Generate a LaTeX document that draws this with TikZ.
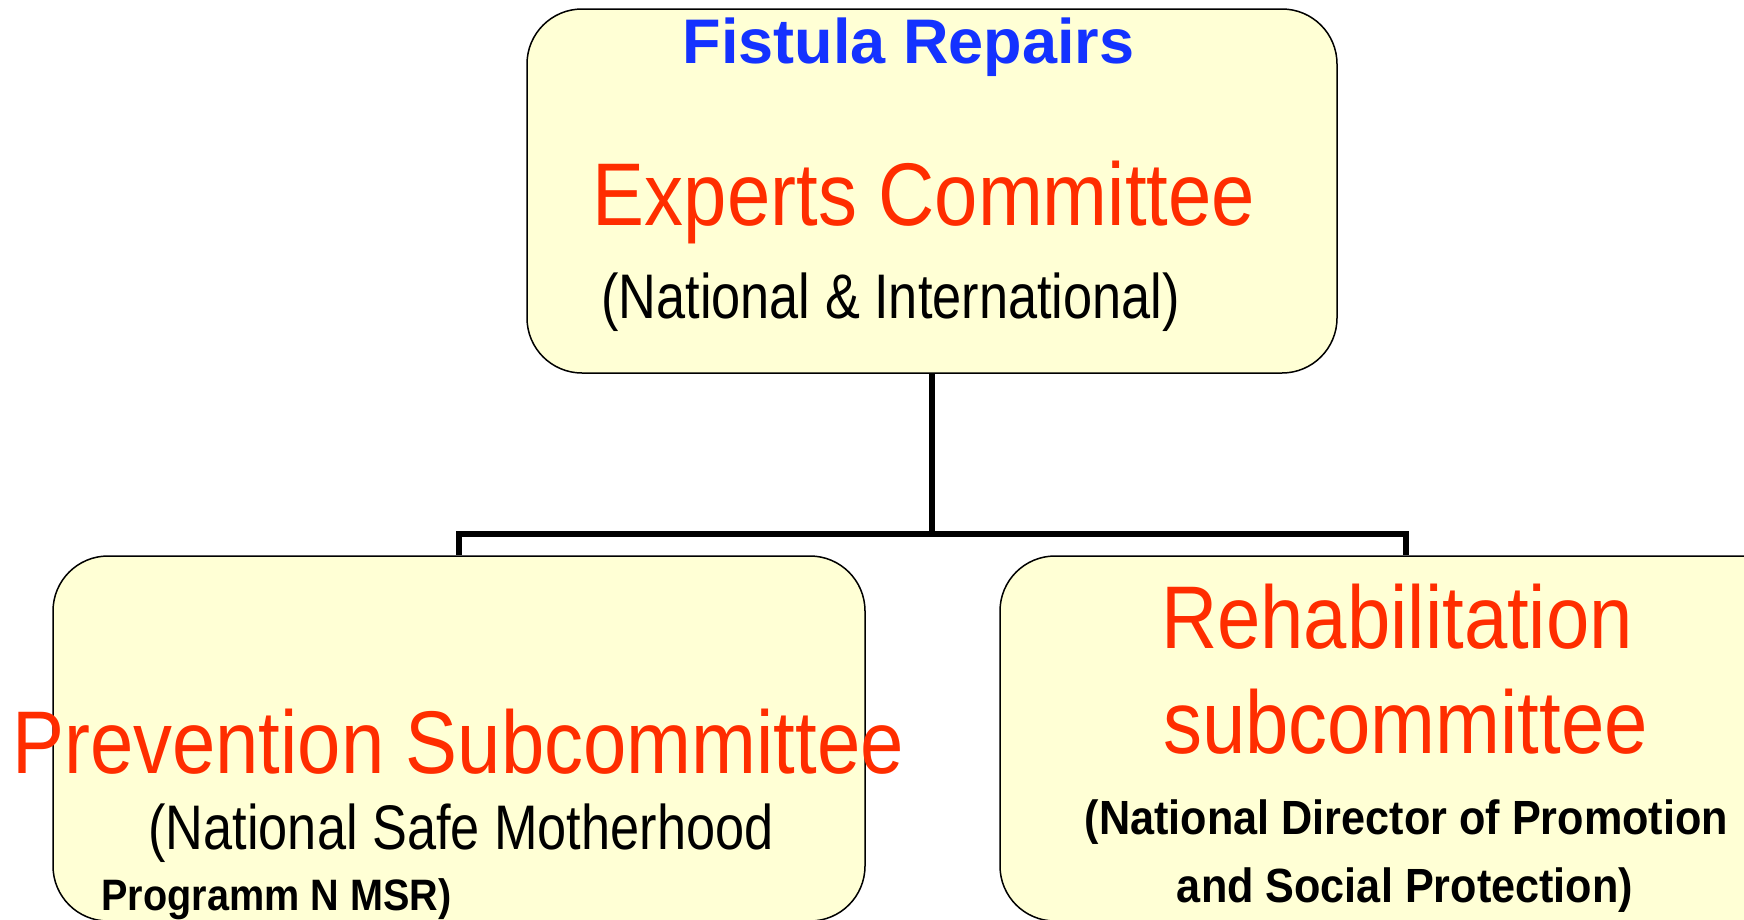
\documentclass[tikz,border=0pt]{standalone}
\usepackage{fontspec}
\setmainfont{Liberation Sans}
\newfontfamily\redf[FakeStretch=0.875]{Liberation Sans}
\newfontfamily\regf[FakeStretch=0.83]{Liberation Sans}
\newfontfamily\bldf[FakeStretch=0.9]{Liberation Sans}
\definecolor{boxfill}{RGB}{255,255,213}
\definecolor{redtxt}{RGB}{255,45,0}
\definecolor{bluetxt}{RGB}{20,50,255}
\begin{document}
\begin{tikzpicture}[x=1pt,y=-1pt,
  box/.style={draw=black, line width=1.5pt, fill=boxfill, rounded corners=55pt,
    minimum width=812pt, minimum height=365pt, inner sep=0pt, anchor=center},
  conn/.style={line width=5.5pt, draw=black, line join=miter},
  txt/.style={anchor=base, inner sep=0pt},
  title/.style={txt, text=bluetxt, font=\bfseries\fontsize{63}{63}\selectfont},
  big/.style={txt, text=redtxt, font=\redf\fontsize{89}{89}\selectfont},
  sub/.style={txt, text=black, font=\regf\fontsize{63}{63}\selectfont},
  subb/.style={txt, text=black, font=\bldf\bfseries\fontsize{48}{48}\selectfont},
  subs/.style={txt, text=black, font=\bldf\bfseries\fontsize{44}{44}\selectfont}]
\useasboundingbox (0,0) rectangle (1744,919);
\clip (0,0) rectangle (1744,919);
% boxes
\node[box, minimum width=810pt, minimum height=364pt] (top) at (932,191) {};
\node[box] (left) at (459,738.5) {};
\node[box] (right) at (1406,738.5) {};
% connectors
\coordinate (mid) at (932,534);
\draw[conn] (top.south) -- (mid);
\draw[conn] (mid) -| (left.north);
\draw[conn] (mid) -| (right.north);
% texts
\node[title] (t1) at (908.5,63) {Fistula Repairs};
\node[big] (t2) at (924,225) {Experts Committee};
\node[sub] (t3) at (890.5,318) {(National \& International)};
\node[big] (l1) at (458,773) {Prevention Subcommittee};
\node[sub] (l2) at (461,849) {(National Safe Motherhood};
\node[subs] (l3) at (276.5,910) {Programm N MSR)};
\node[big] (r1) at (1397,648) {Rehabilitation};
\node[big] (r2) at (1405.5,753) {subcommittee};
\node[subb] (r3) at (1406.5,834) {(National Director of Promotion};
\node[subb] (r4) at (1405,902) {and Social Protection)};
\end{tikzpicture}
\end{document}
